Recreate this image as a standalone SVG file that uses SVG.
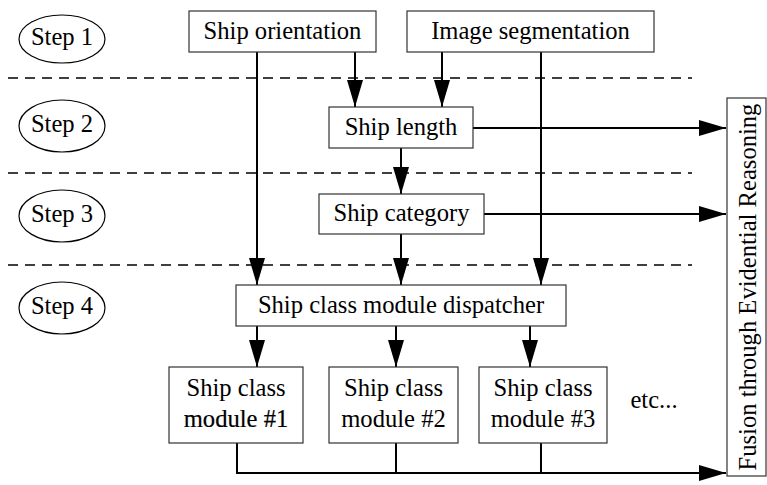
<svg xmlns="http://www.w3.org/2000/svg" width="767" height="485" viewBox="0 0 767 485">
  <style>
    .box { fill: #fff; stroke: #333; stroke-width: 1.2; }
    .step { fill: #fff; stroke: #000; stroke-width: 1.2; }
    .lbl { font-size: 24.6px; fill: #000; text-anchor: middle; }
    .sep { stroke: #000; stroke-width: 1.6; stroke-dasharray: 10 7; fill: none; }
    .wire { stroke: #000; stroke-width: 2; fill: none; }
    .arrow { stroke: #000; stroke-width: 2; fill: none; marker-end: url(#head); }
  </style>
  <defs>
    <marker id="head" markerUnits="userSpaceOnUse" markerWidth="27" markerHeight="16" refX="27" refY="8" orient="auto">
      <path d="M0,0 L27,8 L0,16 z" fill="#000"/>
    </marker>
  </defs>

  <rect width="767" height="485" fill="#fff"/>

  <!-- stage separators -->
  <g id="separators">
    <line class="sep" x1="8" y1="78" x2="692" y2="78"/>
    <line class="sep" x1="8" y1="173" x2="692" y2="173"/>
    <line class="sep" x1="8" y1="265" x2="692" y2="265"/>
  </g>

  <g font-family="Liberation Serif, DejaVu Serif, serif">
    <!-- step labels -->
    <g id="step1"><ellipse class="step" cx="62" cy="39" rx="43" ry="24"/><text class="lbl" x="62" y="45">Step 1</text></g>
    <g id="step2"><ellipse class="step" cx="62" cy="126" rx="43" ry="26"/><text class="lbl" x="62" y="132">Step 2</text></g>
    <g id="step3"><ellipse class="step" cx="62" cy="216" rx="43" ry="26"/><text class="lbl" x="62" y="222">Step 3</text></g>
    <g id="step4"><ellipse class="step" cx="62" cy="308" rx="43" ry="26"/><text class="lbl" x="62" y="314">Step 4</text></g>
  </g>

  <!-- connectors -->
  <g id="connectors">
    <line class="arrow" x1="257" y1="52" x2="257" y2="285"/>
    <line class="arrow" x1="355" y1="52" x2="355" y2="107"/>
    <line class="arrow" x1="442" y1="52" x2="442" y2="107"/>
    <line class="arrow" x1="541" y1="52" x2="541" y2="285"/>
    <line class="arrow" x1="401" y1="148" x2="401" y2="194"/>
    <line class="arrow" x1="401" y1="234" x2="401" y2="285"/>
    <line class="arrow" x1="473" y1="128" x2="726" y2="128"/>
    <line class="arrow" x1="484" y1="214" x2="726" y2="214"/>
    <line class="arrow" x1="257" y1="326" x2="257" y2="367"/>
    <line class="arrow" x1="396" y1="326" x2="396" y2="367"/>
    <line class="arrow" x1="530" y1="326" x2="530" y2="367"/>
    <line class="wire" x1="237" y1="443" x2="237" y2="473"/>
    <line class="wire" x1="396" y1="443" x2="396" y2="473"/>
    <line class="wire" x1="541" y1="443" x2="541" y2="473"/>
    <line class="arrow" x1="236" y1="473" x2="726" y2="473"/>
  </g>

  <!-- processing nodes -->
  <g font-family="Liberation Serif, DejaVu Serif, serif">
    <g id="ship-orientation"><rect class="box" x="189" y="11" width="187" height="41"/><text class="lbl" x="282.5" y="38.5">Ship orientation</text></g>
    <g id="image-segmentation"><rect class="box" x="407" y="11" width="247" height="41"/><text class="lbl" x="530.5" y="38.5">Image segmentation</text></g>
    <g id="ship-length"><rect class="box" x="329" y="107" width="144" height="41"/><text class="lbl" x="401" y="134.5">Ship length</text></g>
    <g id="ship-category"><rect class="box" x="319" y="194" width="165" height="40"/><text class="lbl" x="401.5" y="221">Ship category</text></g>
    <g id="dispatcher"><rect class="box" x="236" y="285" width="330" height="41"/><text class="lbl" x="401" y="312.5">Ship class module dispatcher</text></g>
    <g id="module1"><rect class="box" x="169" y="367" width="134" height="76"/><text class="lbl" x="236" y="396">Ship class</text><text class="lbl" x="236" y="427" stroke="#000" stroke-width="0.2">module #1</text></g>
    <g id="module2"><rect class="box" x="329" y="367" width="129" height="76"/><text class="lbl" x="393.5" y="396">Ship class</text><text class="lbl" x="393.5" y="427">module #2</text></g>
    <g id="module3"><rect class="box" x="479" y="367" width="128" height="76"/><text class="lbl" x="543" y="396">Ship class</text><text class="lbl" x="543" y="427">module #3</text></g>
    <g id="etc"><text class="lbl" x="654" y="408">etc...</text></g>

    <!-- fusion stage -->
    <g id="fusion">
      <rect class="box" x="727" y="98" width="39" height="378"/>
      <text class="lbl" transform="translate(756,287) rotate(-90)">Fusion through Evidential Reasoning</text>
    </g>
  </g>
</svg>
